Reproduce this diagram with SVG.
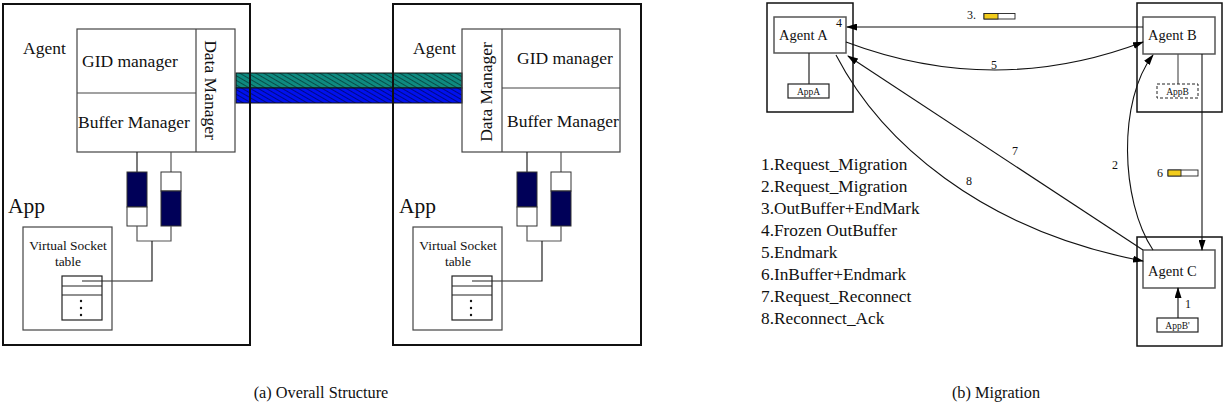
<svg xmlns="http://www.w3.org/2000/svg" width="1225" height="419" viewBox="0 0 1225 419">
<style>
text{font-family:"Liberation Serif","Times New Roman",serif;fill:#111}
.outer{fill:none;stroke:#111;stroke-width:2}
.box{fill:none;stroke:#444;stroke-width:1.2}
.ln{fill:none;stroke:#222;stroke-width:1.2}
.gl{fill:none;stroke:#555;stroke-width:1.2}
.t17{font-size:17.5px}
.app{font-size:21.5px}
.vs{font-size:13.5px;text-anchor:middle}
.ag{font-size:14.5px}
.sm{font-size:9.5px;text-anchor:middle}
.lb{font-size:12px}
.lg{font-size:17.3px}
.cap{font-size:16.3px;text-anchor:middle}
.ob{fill:none;stroke:#111;stroke-width:1.5}
.ib{fill:none;stroke:#555;stroke-width:1.5}
.ar{fill:none;stroke:#111;stroke-width:1.1}
.navy{fill:#000058;stroke:#333;stroke-width:1}
.wq{fill:#fff;stroke:#333;stroke-width:1}
</style>
<defs>
<pattern id="hT" width="4" height="4" patternUnits="userSpaceOnUse" patternTransform="rotate(-60)">
<rect width="4" height="4" fill="#0f8a80"/>
<line x1="0" y1="0" x2="0" y2="4" stroke="#000" stroke-width="0.9"/>
</pattern>
<pattern id="hB" width="4" height="4" patternUnits="userSpaceOnUse" patternTransform="rotate(-60)">
<rect width="4" height="4" fill="#0010ee"/>
<line x1="0" y1="0" x2="0" y2="4" stroke="#000" stroke-width="0.9"/>
</pattern>
<marker id="ah" markerWidth="11" markerHeight="7" refX="10" refY="3.5" orient="auto" markerUnits="userSpaceOnUse">
<path d="M0,0 L11,3.5 L0,7 Z" fill="#000"/>
</marker>
</defs>

<!-- (a) stripes -->
<g id="channel">
<rect x="236" y="73" width="226" height="15" fill="url(#hT)" stroke="#111" stroke-width="1"/>
<rect x="236" y="88" width="226" height="15" fill="url(#hB)" stroke="#111" stroke-width="1"/>
</g>

<!-- left host -->
<g id="hostL">
<rect class="outer" x="3" y="4" width="247" height="341"/>
<text class="t17" x="23" y="54">Agent</text>
<rect class="box" x="77" y="29" width="158" height="123"/>
<line class="box" x1="196" y1="29" x2="196" y2="152"/>
<line class="box" x1="77" y1="93" x2="196" y2="93"/>
<text class="t17" x="82" y="67">GID manager</text>
<text class="t17" x="78" y="128">Buffer Manager</text>
<text class="t17" text-anchor="middle" transform="translate(205,90) rotate(90)">Data Manager</text>
<line class="ln" x1="137" y1="152" x2="137" y2="172"/>
<line class="gl" x1="171" y1="152" x2="171" y2="172"/>
<rect class="navy" x="127" y="172" width="20" height="35"/>
<rect class="wq" x="127" y="207" width="20" height="19"/>
<rect class="wq" x="161" y="172" width="20" height="19"/>
<rect class="navy" x="161" y="191" width="20" height="35"/>
<polyline class="gl" points="137,226 137,241 171,241 171,226"/>
<polyline class="ln" points="152,241 152,281 82,281"/>
<text class="app" x="8" y="213">App</text>
<rect class="box" x="23" y="227" width="89" height="103"/>
<text class="vs" x="68" y="250">Virtual Socket</text>
<text class="vs" x="68" y="266">table</text>
<rect class="ln" x="62" y="276" width="40" height="44"/>
<line class="ln" x1="62" y1="286" x2="102" y2="286"/>
<line class="ln" x1="62" y1="295" x2="102" y2="295"/>
<circle cx="81" cy="301" r="1.2" fill="#111"/>
<circle cx="81" cy="308" r="1.2" fill="#111"/>
<circle cx="81" cy="315" r="1.2" fill="#111"/>
</g>

<!-- right host -->
<g id="hostR">
<rect class="outer" x="393" y="4" width="248" height="341"/>
<text class="t17" x="413" y="54">Agent</text>
<rect class="box" x="462" y="29" width="158" height="123" fill="#fff"/>
<line class="box" x1="502" y1="29" x2="502" y2="152"/>
<line class="box" x1="502" y1="88" x2="620" y2="88"/>
<text class="t17" x="517" y="64">GID manager</text>
<text class="t17" x="507" y="127">Buffer Manager</text>
<text class="t17" text-anchor="middle" transform="translate(492,92) rotate(-90)">Data Manager</text>
<line class="ln" x1="527" y1="152" x2="527" y2="172"/>
<line class="gl" x1="561" y1="152" x2="561" y2="172"/>
<rect class="navy" x="517" y="172" width="20" height="35"/>
<rect class="wq" x="517" y="207" width="20" height="19"/>
<rect class="wq" x="551" y="172" width="20" height="19"/>
<rect class="navy" x="551" y="191" width="20" height="35"/>
<polyline class="gl" points="527,226 527,241 561,241 561,226"/>
<polyline class="ln" points="542,241 542,281 472,281"/>
<text class="app" x="399" y="213">App</text>
<rect class="box" x="413" y="227" width="89" height="103"/>
<text class="vs" x="458" y="250">Virtual Socket</text>
<text class="vs" x="458" y="266">table</text>
<rect class="ln" x="452" y="276" width="40" height="44"/>
<line class="ln" x1="452" y1="286" x2="492" y2="286"/>
<line class="ln" x1="452" y1="295" x2="492" y2="295"/>
<circle cx="471" cy="301" r="1.2" fill="#111"/>
<circle cx="471" cy="308" r="1.2" fill="#111"/>
<circle cx="471" cy="315" r="1.2" fill="#111"/>
</g>

<text class="cap" x="321" y="398">(a) Overall Structure</text>

<!-- (b) nodes -->
<g id="agentA">
<rect class="ob" x="767" y="3" width="86" height="109"/>
<rect class="ib" x="774" y="17" width="72" height="36"/>
<text class="ag" x="779" y="40">Agent A</text>
<text class="lb" x="836" y="27">4</text>
<line class="ln" x1="809" y1="53" x2="809" y2="84"/>
<rect class="ln" x="788" y="84" width="41" height="14"/>
<text class="sm" x="808.5" y="94.5">AppA</text>
</g>
<g id="agentB">
<rect class="ob" x="1137" y="3" width="85" height="109"/>
<rect class="ib" x="1143" y="17" width="72" height="37"/>
<text class="ag" x="1148" y="40">Agent B</text>
<line class="gl" x1="1178" y1="54" x2="1178" y2="84"/>
<rect x="1157" y="84" width="41" height="14" fill="none" stroke="#222" stroke-width="1" stroke-dasharray="3,2"/>
<text class="sm" x="1177.5" y="94.5">AppB</text>
</g>
<g id="agentC">
<rect class="ob" x="1137" y="237" width="85" height="109"/>
<rect class="ib" x="1143" y="250" width="72" height="38"/>
<text class="ag" x="1148" y="276">Agent C</text>
<rect class="ln" x="1157" y="318" width="41" height="14"/>
<text class="sm" x="1177.5" y="328.5">AppB'</text>
</g>

<g id="connectors">
<line class="ar" x1="1143" y1="27" x2="847" y2="27" marker-end="url(#ah)"/>
<path class="ar" d="M846,42 Q995,98 1143,42" marker-end="url(#ah)"/>
<line class="ar" x1="1202" y1="54" x2="1202" y2="250" marker-end="url(#ah)"/>
<line class="ar" x1="1178" y1="318" x2="1178" y2="288" marker-end="url(#ah)"/>
<path class="ar" d="M1153,250 C1120,200 1118,100 1153,55" marker-end="url(#ah)"/>
<line class="ar" x1="1143" y1="250" x2="848" y2="56" marker-end="url(#ah)"/>
<path class="ar" d="M836,55 C880,140 980,230 1143,261" marker-end="url(#ah)"/>
</g>

<g id="labels">
<text class="lb" x="967" y="19">3.</text>
<rect x="984" y="13.5" width="31" height="5.5" fill="#fff" stroke="#222" stroke-width="0.9"/>
<rect x="984" y="13.5" width="14" height="5.5" fill="#f2cc1c" stroke="#222" stroke-width="0.9"/>
<text class="lb" x="991" y="69">5</text>
<text class="lb" x="1012" y="155">7</text>
<text class="lb" x="966" y="185">8</text>
<text class="lb" x="1112" y="169">2</text>
<text class="lb" x="1157" y="177">6</text>
<rect x="1168" y="170" width="30" height="6" fill="#fff" stroke="#222" stroke-width="0.9"/>
<rect x="1168" y="170" width="13" height="6" fill="#f2cc1c" stroke="#222" stroke-width="0.9"/>
<text class="lb" x="1185" y="308">1</text>
</g>

<g id="legend">
<text class="lg" x="761" y="170">1.Request_Migration</text>
<text class="lg" x="761" y="192">2.Request_Migration</text>
<text class="lg" x="761" y="214">3.OutBuffer+EndMark</text>
<text class="lg" x="761" y="236">4.Frozen OutBuffer</text>
<text class="lg" x="761" y="258">5.Endmark</text>
<text class="lg" x="761" y="280">6.InBuffer+Endmark</text>
<text class="lg" x="761" y="302">7.Request_Reconnect</text>
<text class="lg" x="761" y="324">8.Reconnect_Ack</text>
</g>

<text class="cap" x="996" y="398">(b) Migration</text>
</svg>
